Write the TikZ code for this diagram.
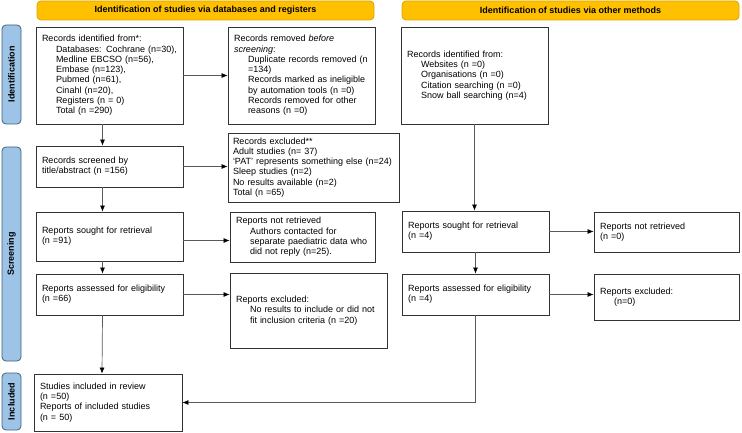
\documentclass[tikz,border=0pt]{standalone}
\usepackage{fontspec}
\setmainfont{Liberation Sans}
\usetikzlibrary{arrows.meta}
\definecolor{bannerfill}{HTML}{FFC000}
\definecolor{bannerline}{HTML}{D9A400}
\definecolor{sidefill}{HTML}{9DC3E6}
\definecolor{sideline}{HTML}{41627E}
\newcommand{\pind}{\hspace*{14pt}}

\begin{document}
\begin{tikzpicture}[x=1pt, y=-1pt,
         font = \fontsize{9}{10.3}\selectfont,
   banner/.style = {rectangle, rounded corners=4pt, draw=bannerline, fill=bannerfill, line width=0.8pt,
                    minimum width=337, minimum height=19, inner sep=0pt,
                    font=\fontsize{9}{10.3}\selectfont\bfseries},
     side/.style = {rectangle, rounded corners=4pt, draw=sideline, fill=sidefill, line width=0.8pt,
                    rotate=90, minimum height=19, inner sep=0pt,
                    font=\fontsize{9}{10.3}\selectfont\bfseries},
      box/.style = {rectangle, draw=black!80, line width=0.8pt, align=left, inner xsep=0pt, inner ysep=2pt},
      arr/.style = {draw=black!65, line width=0.7pt, -{Latex[length=6pt,width=5pt,color=black]}}
                        ]
\useasboundingbox (0,0) rectangle (742,433);
% headings and phases
\node[banner] (dbHead)    at (205.5,10.5) {Identification of studies via databases and registers};
\node[banner] (otherHead) at (570.5,10.5) {Identification of studies via other methods};
\node[side, minimum width=99]  (sIdent)  at (11.5,74.5)  {Identification};
\node[side, minimum width=214] (sScreen) at (11.5,254)   {Screening};
\node[side, minimum width=57]  (sIncl)   at (11.5,401.5) {Included};
% databases and registers
\node[box, minimum width=147, minimum height=97, text width=135] (recId) at (109.5,75.5)
  {Records identified from*:\\ \pind Databases: Cochrane (n=30),\\ \pind Medline EBCSO (n=56),\\
   \pind Embase (n=123),\\ \pind Pubmed (n=61),\\ \pind Cinahl (n=20),\\ \pind Registers (n = 0)\\
   \pind Total (n =290)};
\node[box, minimum width=147, minimum height=97, text width=135] (removed) at (301.5,75.5)
  {Records removed \textit{before}\\ \textit{screening}:\\ \pind Duplicate records removed (n\\
   \pind =134)\\ \pind Records marked as ineligible\\ \pind by automation tools (n =0)\\
   \pind Records removed for other\\ \pind reasons (n =0)};
\node[box, minimum width=147, minimum height=41, text width=135] (screened) at (109.5,166.5)
  {Records screened by\\ title/abstract (n =156)};
\node[box, minimum width=171, minimum height=69, text width=161] (excluded) at (313.5,167.5)
  {Records excluded**\\ Adult studies (n= 37)\\ `PAT' represents something else (n=24)\\
   Sleep studies (n=2)\\ No results available (n=2)\\ Total (n =65)};
\node[box, minimum width=147, minimum height=49, text width=135] (sought) at (109.5,236.5)
  {Reports sought for retrieval\\ (n =91)};
\node[box, minimum width=145, minimum height=50, text width=133] (notRet) at (302.5,237)
  {Reports not retrieved\\ \pind Authors contacted for\\ \pind separate paediatric data who\\
   \pind did not reply (n=25).};
\node[box, minimum width=147, minimum height=41, text width=135] (assessed) at (109.5,294.5)
  {Reports assessed for eligibility\\ (n =66)};
\node[box, minimum width=157, minimum height=75, text width=145] (excl) at (308.5,310.5)
  {Reports excluded:\\ \pind No results to include or did not\\ \pind fit inclusion criteria (n =20)};
\node[box, minimum width=148, minimum height=57, text width=136] (included) at (108,402.5)
  {Studies included in review\\ (n =50)\\ Reports of included studies\\ (n = 50)};
% other methods
\node[box, minimum width=147, minimum height=97, text width=135] (idOther) at (474.5,75.5)
  {Records identified from:\\ \pind Websites (n =0)\\ \pind Organisations (n =0)\\
   \pind Citation searching (n =0)\\ \pind Snow ball searching (n=4)};
\node[box, minimum width=147, minimum height=41, text width=135] (sought2) at (475.5,231.5)
  {Reports sought for retrieval\\ (n =4)};
\node[box, minimum width=145, minimum height=40, text width=133] (notRet2) at (666.5,232)
  {Reports not retrieved\\ (n =0)};
\node[box, minimum width=147, minimum height=41, text width=135] (assessed2) at (475.5,294.5)
  {Reports assessed for eligibility\\ (n =4)};
\node[box, minimum width=145, minimum height=46, text width=133] (excl2) at (666.5,297)
  {Reports excluded:\\ \pind(n=0)};
% connectors
\draw[arr] (recId.east) -- (recId.east -| removed.west);
\draw[arr] ([xshift=-7]recId.south) -- ([xshift=-7]screened.north);
\draw[arr] (screened.east) -- (screened.east -| excluded.west);
\draw[arr] ([xshift=-7]screened.south) -- ([xshift=-7]sought.north);
\draw[arr] ([yshift=-4]sought.east) -- ([yshift=-4]sought.east -| notRet.west);
\draw[arr] ([xshift=-7]sought.south) -- ([xshift=-7]assessed.north);
\draw[arr] (assessed.east) -- (assessed.east -| excl.west);
\draw[arr] ([xshift=-7]assessed.south) -- ([xshift=-6]included.north);
\draw[arr] (idOther.south) -- (idOther.south |- sought2.north);
\draw[arr] (sought2.east) -- (sought2.east -| notRet2.west);
\draw[arr] (sought2.south) -- (assessed2.north);
\draw[arr] (assessed2.east) -- (assessed2.east -| excl2.west);
\draw[arr] (assessed2.south) |- (included.east);
\end{tikzpicture}
\end{document}
